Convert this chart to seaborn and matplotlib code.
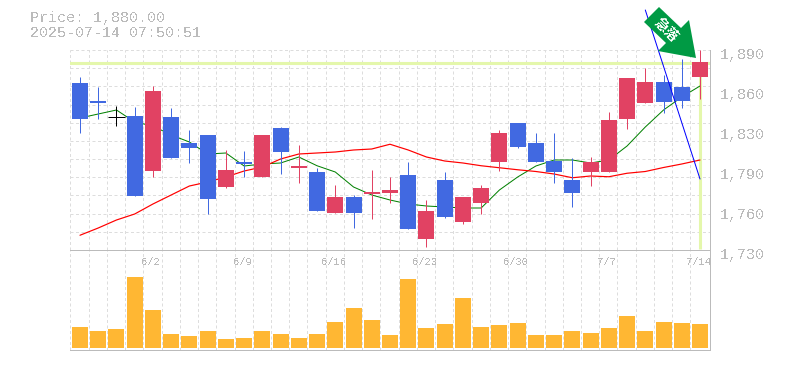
import numpy as np
import pandas as pd
import matplotlib
matplotlib.use("Agg")
import matplotlib.pyplot as plt
import seaborn as sns
from matplotlib.patches import Polygon
from matplotlib.transforms import ScaledTranslation

dates = ["", "", "", "", "6/2", "", "", "", "", "6/9", "", "", "", "", "6/16", "", "", "", "",
         "6/23", "", "", "", "", "6/30", "", "", "", "", "7/7", "", "", "", "", "7/14"]
open_ = [1863.6, 1849.2, 1836.2, 1837.2, 1793.4, 1836.4, 1815.6, 1822, 1780.4, 1800.4, 1788.4, 1827.6,
         1795.6, 1792.4, 1759.6, 1772.4, 1774.8, 1775.6, 1790, 1738.8, 1786, 1752.4, 1767.6, 1800.4,
         1831.6, 1815.6, 1801.2, 1786, 1792.4, 1792.4, 1835, 1847.6, 1864.4, 1860.4, 1868.4]
close = [1835, 1847.6, 1836.2, 1773.4, 1857.2, 1803.8, 1811.6, 1771, 1794, 1798.8, 1822, 1808.4,
         1797.2, 1761.2, 1772.4, 1759.6, 1776.4, 1778, 1746.8, 1761.2, 1756.4, 1772.4, 1779.6, 1823.6,
         1812.4, 1800.4, 1792.4, 1775.6, 1800.4, 1834, 1867.6, 1864.4, 1848.4, 1849.2, 1880.4]
high = [1868.4, 1860.4, 1845.2, 1844.4, 1861.2, 1843.6, 1826, 1822, 1810, 1809.2, 1822, 1828.4,
        1814, 1795.6, 1782, 1774, 1794, 1788.4, 1800.4, 1770, 1792.4, 1772.4, 1782, 1826,
        1831.6, 1823.6, 1823.6, 1803.6, 1804.4, 1840.4, 1867.6, 1875.6, 1870, 1882.8, 1890]
low = [1823.8, 1835, 1829.2, 1773.4, 1788.4, 1803.8, 1799.8, 1759, 1779.6, 1788.4, 1788.4, 1790.8,
       1783.6, 1761.2, 1759.6, 1747.6, 1754.8, 1767.6, 1746.8, 1732.4, 1755.6, 1750.8, 1758.8, 1793.2,
       1811.6, 1800.4, 1783.6, 1764.4, 1781.2, 1792.4, 1826.8, 1847.6, 1839.6, 1843.6, 1850.8]
ma_short = [1835.6, 1838.8, 1842, 1832.4, 1829.2, 1822, 1816.4, 1806.8, 1807.6, 1797.2, 1798.8, 1799.6,
            1804.4, 1797.4, 1792.4, 1780.4, 1774, 1770, 1766.8, 1765.2, 1764.4, 1763.6, 1763.6, 1778,
            1788.4, 1797.2, 1802, 1802, 1799.6, 1802, 1813.2, 1828.4, 1842, 1852.4, 1861.2]
ma_long = [1741.8, 1747.6, 1754, 1758.8, 1766.8, 1774, 1781.2, 1784.4, 1788.4, 1793.2, 1796.4, 1802.8,
           1806.8, 1807.6, 1808.4, 1810, 1810.8, 1814.6, 1810, 1804.4, 1801.2, 1799.6, 1797.4, 1795.8,
           1794.2, 1792.8, 1790.8, 1787.8, 1789.2, 1788.6, 1791.4, 1792.8, 1796, 1798.8, 1802]
volume = [21, 17, 19, 71, 38, 14, 12, 17, 9, 10, 17, 14, 10, 14, 26, 40, 28, 13,
          69, 20, 24, 50, 21, 23, 25, 13, 13, 17, 15, 20, 32, 17, 26, 25, 24]
trend_idx = [31, 34]
trend_val = [1922, 1786.8]
price_now = 1880
price_ticks = [1890, 1858, 1826, 1794, 1762, 1730]
price_labels = ["1,890", "1,860", "1,830", "1,790", "1,760", "1,730"]

UP = "#e14263"
DOWN = "#4169e1"
GRAY = "#bbbbbb"
GRID = "#dddddd"
BAND = "#e4f7ab"
W, H = 785, 370
PX = 0.72  # one pixel in points

sns.set_theme(style="white")
plt.rcParams["font.family"] = ["Liberation Mono", "DejaVu Sans Mono"]
plt.rcParams["text.antialiased"] = False

fig = plt.figure(figsize=(W / 100, H / 100), dpi=100)
ax = fig.add_axes([70 / W, 1 - 250 / H, 640 / W, 200 / H])
ax2 = fig.add_axes([70 / W, 1 - 350 / H, 640 / W, 100 / H])
x = np.arange(len(close))
df = pd.DataFrame({"x": x, "open": open_, "close": close, "high": high, "low": low,
                   "ma_short": ma_short, "ma_long": ma_long, "volume": volume})

grid_kw = dict(color=GRID, lw=PX, ls=(0, (3, 2.5)))
for a in (ax, ax2):
    a.set_xlim(-0.548, 34.548)
    a.set_xticks(x - 0.525, minor=True)
    a.grid(which="minor", axis="x", zorder=0, **grid_kw)
    a.set_axisbelow(True)
    a.tick_params(which="both", length=0)
    for s in a.spines.values():
        s.set_color(GRAY)
        s.set_linewidth(PX)
    a.spines["left"].set_visible(False)

# price panel
ax.set_ylim(1730, 1890)
ax.set_yticks(np.linspace(1730, 1890, 12), minor=True)
ax.grid(which="minor", axis="y", zorder=0, **grid_kw)
ax.axhline(1890, zorder=1, clip_on=False, **grid_kw)
ax.spines["top"].set_visible(False)
ax.set_xticks([])
ax.set_xlabel("")
ax.yaxis.tick_right()
ax.set_yticks(price_ticks)
ax.set_yticklabels(price_labels, fontsize=10.8, color=GRAY)
ax.tick_params(axis="y", pad=7.5)
shift = ScaledTranslation(0, -3 / 100, fig.dpi_scale_trans)
for lab in ax.get_yticklabels():
    lab.set_transform(lab.get_transform() + shift)

ax.axhline(price_now, color=BAND, linewidth=2.2, zorder=1.5)
ax.vlines(x[-1], 1731, price_now, color=BAND, linewidth=2.2, zorder=1.5)

sns.lineplot(data=df, x="x", y="ma_short", ax=ax, color="#008000", linewidth=PX, zorder=2)
sns.lineplot(data=df, x="x", y="ma_long", ax=ax, color="#ff0000", linewidth=PX * 1.2, zorder=2)

for i, row in df.iterrows():
    if row["close"] > row["open"]:
        col = UP
    elif row["close"] < row["open"]:
        col = DOWN
    else:
        col = "black"
    ax.vlines(i, row["low"], row["high"], color=col, linewidth=PX, zorder=3)
    if col == "black":
        ax.hlines(row["close"], i - 0.45, i + 0.45, color=col, linewidth=PX, zorder=3)
    else:
        ax.bar(i, abs(row["close"] - row["open"]), bottom=min(row["open"], row["close"]),
               width=0.875, color=col, linewidth=0, zorder=3)

ax.plot(trend_idx, trend_val, color="#0000ff", linewidth=PX, zorder=4, clip_on=False)
ax.set_ylabel("")
ax.set_xlim(-0.548, 34.548)
ax.set_ylim(1730, 1890)

# volume panel
sns.barplot(data=df, x="x", y="volume", ax=ax2, color="#ffb733", saturation=1, width=0.875,
            native_scale=True, zorder=3, linewidth=0)
ax2.set_xlim(-0.548, 34.548)
ax2.set_ylim(-2, 98)
ax2.set_xticks([])
ax2.set_yticks([])
ax2.set_xlabel("")
ax2.set_ylabel("")
for i, d in enumerate(dates):
    if d:
        ax2.text(i - 0.1, 86, d, ha="center", va="center", fontsize=7.6, color=GRAY, zorder=4)

# arrow and header
def px(p):
    return [(a / W, 1 - b / H) for a, b in p]

arrow = [(659, 7), (644, 22), (666, 43), (658, 51), (696, 58), (689, 20), (681, 28)]
fig.add_artist(Polygon(px(arrow), closed=True, transform=fig.transFigure, color="#009a44", lw=0, zorder=10))
fig.text(666 / W, 1 - 30 / H, "急落", rotation=-45, ha="center", va="center", fontsize=10, color="white",
         family=["Noto Sans CJK JP", "DejaVu Sans"], fontweight="bold", zorder=11, rotation_mode="anchor")
fig.text(30 / W, 1 - 18 / H, "Price: 1,880.00", fontsize=10.8, color=GRAY, va="center")
fig.text(30 / W, 1 - 33 / H, "2025-07-14 07:50:51", fontsize=10.8, color=GRAY, va="center")

fig.savefig("out.png", dpi=100)
